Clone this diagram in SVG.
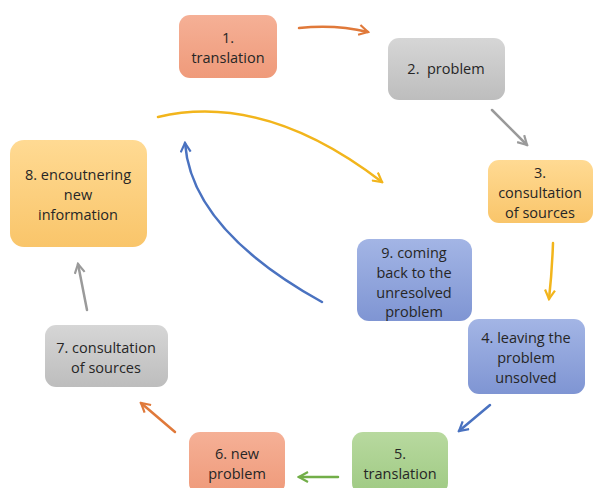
<svg xmlns="http://www.w3.org/2000/svg" width="593" height="488" viewBox="0 0 593 488">
<defs>
<linearGradient id="gOr" x1="0" y1="0" x2="0" y2="1"><stop offset="0" stop-color="#F5B096"/><stop offset="1" stop-color="#EF9A7A"/></linearGradient>
<linearGradient id="gGr" x1="0" y1="0" x2="0" y2="1"><stop offset="0" stop-color="#D6D6D6"/><stop offset="1" stop-color="#BDBDBD"/></linearGradient>
<linearGradient id="gYe" x1="0" y1="0" x2="0" y2="1"><stop offset="0" stop-color="#FFDA93"/><stop offset="1" stop-color="#F9C56A"/></linearGradient>
<linearGradient id="gBl" x1="0" y1="0" x2="0" y2="1"><stop offset="0" stop-color="#A3B5E5"/><stop offset="1" stop-color="#7F95D3"/></linearGradient>
<linearGradient id="gGn" x1="0" y1="0" x2="0" y2="1"><stop offset="0" stop-color="#B8D99F"/><stop offset="1" stop-color="#9FCA83"/></linearGradient>
<marker id="mOr" viewBox="0 0 12 12" refX="10" refY="6" markerWidth="12" markerHeight="12" markerUnits="userSpaceOnUse" orient="auto"><path d="M1,1 L10,6 L1,11" fill="none" stroke="#E0793A" stroke-width="2.2"/></marker>
<marker id="mGr" viewBox="0 0 12 12" refX="10" refY="6" markerWidth="12" markerHeight="12" markerUnits="userSpaceOnUse" orient="auto"><path d="M1,1 L10,6 L1,11" fill="none" stroke="#9A9A9A" stroke-width="2.2"/></marker>
<marker id="mYe" viewBox="0 0 12 12" refX="10" refY="6" markerWidth="12" markerHeight="12" markerUnits="userSpaceOnUse" orient="auto"><path d="M1,1 L10,6 L1,11" fill="none" stroke="#F2B51C" stroke-width="2.2"/></marker>
<marker id="mBl" viewBox="0 0 12 12" refX="10" refY="6" markerWidth="12" markerHeight="12" markerUnits="userSpaceOnUse" orient="auto"><path d="M1,1 L10,6 L1,11" fill="none" stroke="#4A72C0" stroke-width="2.2"/></marker>
<marker id="mGn" viewBox="0 0 12 12" refX="10" refY="6" markerWidth="12" markerHeight="12" markerUnits="userSpaceOnUse" orient="auto"><path d="M1,1 L10,6 L1,11" fill="none" stroke="#72AE48" stroke-width="2.2"/></marker>
</defs>
<style>
text{font-family:"Open Sans","Noto Sans",sans-serif;font-size:14.5px;fill:#262626;text-anchor:middle;dominant-baseline:central}
.pre{white-space:pre}
.c{fill:none;stroke-width:2.5;stroke-linecap:round}
.or{stroke:#E0793A;marker-end:url(#mOr)}
.gr{stroke:#9A9A9A;marker-end:url(#mGr)}
.ye{stroke:#F2B51C;marker-end:url(#mYe)}
.bl{stroke:#4A72C0;marker-end:url(#mBl)}
.gn{stroke:#72AE48;marker-end:url(#mGn)}
</style>
<rect width="593" height="488" fill="#fff"/>
<g id="connectors">
<path class="c or" d="M299,28 Q335,24 368,32"/>
<path class="c gr" d="M492,110 L527,145"/>
<path class="c ye" d="M553,243 Q552,272 549,299"/>
<path class="c bl" d="M490,405 L459,431"/>
<path class="c gn" d="M338,477 L299,477"/>
<path class="c or" d="M175,432 L141,403"/>
<path class="c gr" d="M87,310 L78,264"/>
<path class="c ye" d="M158,117 Q265,92 382,182"/>
<path class="c bl" d="M322,302 C250,262 190,210 185,143"/>
</g>
<g id="n1"><rect x="179" y="15" width="98" height="63" rx="11" fill="url(#gOr)"/><text x="228" y="37">1.</text><text x="228" y="57">translation</text></g>
<g id="n2"><rect x="388" y="38" width="117" height="62" rx="11" fill="url(#gGr)"/><text class="pre" x="446" y="68" xml:space="preserve">2.  problem</text></g>
<g id="n3"><rect x="488" y="160" width="105" height="63" rx="11" fill="url(#gYe)"/><text x="540" y="172">3.</text><text x="540" y="192">consultation</text><text x="540" y="212">of sources</text></g>
<g id="n4"><rect x="468" y="319" width="117" height="75" rx="11" fill="url(#gBl)"/><text x="526" y="337">4. leaving the</text><text x="526" y="357">problem</text><text x="526" y="377">unsolved</text></g>
<g id="n5"><rect x="352" y="432" width="96" height="62" rx="11" fill="url(#gGn)"/><text x="400" y="453">5.</text><text x="400" y="473">translation</text></g>
<g id="n6"><rect x="189" y="432" width="96" height="62" rx="11" fill="url(#gOr)"/><text x="237" y="453">6. new</text><text x="237" y="473">problem</text></g>
<g id="n7"><rect x="45" y="325" width="123" height="62" rx="11" fill="url(#gGr)"/><text x="106" y="347">7. consultation</text><text x="106" y="367">of sources</text></g>
<g id="n8"><rect x="10" y="140" width="137" height="107" rx="14" fill="url(#gYe)"/><text x="78" y="174">8. encoutnering</text><text x="78" y="194">new</text><text x="78" y="214">information</text></g>
<g id="n9"><rect x="357" y="239" width="115" height="82" rx="12" fill="url(#gBl)"/><text x="414" y="252">9. coming</text><text x="414" y="272">back to the</text><text x="414" y="292">unresolved</text><text x="414" y="311">problem</text></g>
</svg>
